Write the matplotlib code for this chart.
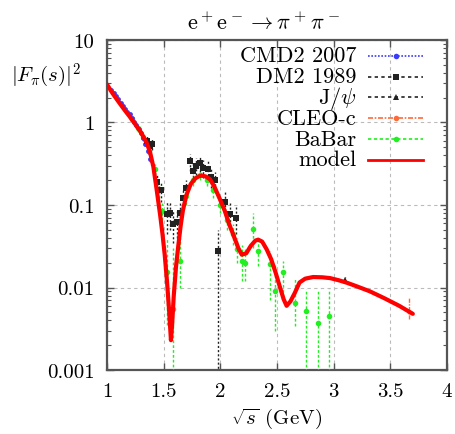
import numpy as np
import matplotlib
matplotlib.use('Agg')
import matplotlib.pyplot as plt
from matplotlib.ticker import FixedLocator, FixedFormatter, LogLocator, NullFormatter

plt.rcParams['font.family'] = 'cmr10'
plt.rcParams['mathtext.fontset'] = 'cm'
plt.rcParams['axes.unicode_minus'] = False

# CMD2 2007
cmd2_x = [1.04, 1.06, 1.08, 1.10, 1.12, 1.14, 1.16, 1.18, 1.20, 1.22, 1.24, 1.26, 1.28, 1.30, 1.32, 1.34, 1.36, 1.38]
cmd2_y = [2.5, 2.3, 2.1, 1.9, 1.72, 1.6, 1.45, 1.35, 1.25, 1.12, 1.02, 0.92, 0.83, 0.74, 0.64, 0.55, 0.45, 0.36]
cmd2_err = [0.08, 0.07, 0.07, 0.06, 0.06, 0.05, 0.05, 0.05, 0.04, 0.04, 0.04, 0.04, 0.03, 0.03, 0.03, 0.03, 0.03, 0.03]

# DM2 1989
dm2_x = [1.35, 1.38, 1.40, 1.44, 1.48, 1.53, 1.56, 1.585, 1.615, 1.645, 1.67, 1.70, 1.73, 1.76, 1.79,
         1.82, 1.85, 1.89, 1.92, 1.95, 1.98, 2.04, 2.085, 2.14]
dm2_y = [0.60, 0.52, 0.55, 0.19, 0.15, 0.078, 0.08, 0.058, 0.062, 0.08, 0.12, 0.16, 0.34, 0.26, 0.30,
         0.32, 0.28, 0.27, 0.22, 0.20, 0.028, 0.11, 0.078, 0.07]
dm2_lo = [0.50, 0.44, 0.46, 0.15, 0.11, 0.045, 0.05, 0.035, 0.04, 0.055, 0.09, 0.12, 0.26, 0.19, 0.23,
          0.25, 0.21, 0.20, 0.16, 0.15, 1e-5, 0.075, 0.05, 0.045]
dm2_hi = [0.70, 0.60, 0.64, 0.23, 0.19, 0.11, 0.11, 0.085, 0.085, 0.105, 0.15, 0.20, 0.42, 0.33, 0.37,
          0.39, 0.35, 0.34, 0.28, 0.25, 0.05, 0.15, 0.105, 0.095]

# J/psi
jpsi_x = [3.097]
jpsi_y = [0.0125]
jpsi_err = [0.0008]

# CLEO-c
cleo_x = [3.67]
cleo_y = [0.0051]
cleo_lo = [0.0042]
cleo_hi = [0.0075]

# BaBar
babar_x = [1.22, 1.27, 1.32, 1.37, 1.42, 1.46, 1.49, 1.527, 1.585, 1.644, 1.70, 1.76, 1.82, 1.88,
           1.94, 2.00, 2.06, 2.115, 2.145, 2.19, 2.218, 2.29, 2.335, 2.44, 2.48, 2.556, 2.66,
           2.76, 2.865, 2.96]
babar_y = [1.1, 0.85, 0.66, 0.45, 0.27, 0.15, 0.085, 0.0153, 0.0055, 0.021, 0.13, 0.20, 0.23, 0.20,
           0.15, 0.10, 0.065, 0.045, 0.029, 0.021, 0.020, 0.051, 0.028, 0.0194, 0.009, 0.0153, 0.0065,
           0.0052, 0.0037, 0.0045]
babar_lo = [1.0, 0.77, 0.60, 0.40, 0.23, 0.12, 0.065, 0.0035, 1e-5, 0.010, 0.10, 0.17, 0.20, 0.17,
            0.12, 0.08, 0.05, 0.033, 0.02, 0.012, 0.012, 0.03, 0.018, 0.007, 0.003, 0.0077, 0.0034,
            1e-5, 1e-5, 1e-5]
babar_hi = [1.2, 0.93, 0.72, 0.50, 0.31, 0.18, 0.105, 0.04, 0.03, 0.04, 0.16, 0.23, 0.26, 0.23,
            0.18, 0.12, 0.08, 0.058, 0.04, 0.033, 0.03, 0.08, 0.04, 0.028, 0.02, 0.021, 0.0127,
            0.0095, 0.009, 0.0095]

# model curve
model_x = [1.00, 1.05, 1.10, 1.15, 1.20, 1.25, 1.30, 1.35, 1.38, 1.41, 1.44, 1.47, 1.49, 1.51, 1.53,
           1.55, 1.565, 1.575, 1.59, 1.61, 1.63, 1.65, 1.67, 1.70, 1.74, 1.78, 1.81, 1.835, 1.87,
           1.91, 1.95, 2.00, 2.04, 2.08, 2.12, 2.16, 2.19, 2.23, 2.27, 2.31, 2.335, 2.37, 2.41,
           2.45, 2.49, 2.53, 2.56, 2.586, 2.62, 2.66, 2.70, 2.75, 2.82, 2.90, 2.97, 3.05, 3.12,
           3.20, 3.32, 3.45, 3.58, 3.70]
model_y = [2.9, 2.25, 1.8, 1.45, 1.18, 0.95, 0.76, 0.57, 0.44, 0.29, 0.15, 0.075, 0.045, 0.025, 0.012,
           0.005, 0.0023, 0.0035, 0.008, 0.018, 0.032, 0.055, 0.085, 0.13, 0.18, 0.21, 0.222, 0.227, 0.222,
           0.205, 0.165, 0.115, 0.085, 0.058, 0.042, 0.030, 0.025, 0.026, 0.032, 0.037, 0.038, 0.036, 0.029,
           0.022, 0.015, 0.0098, 0.0072, 0.006, 0.0068, 0.0087, 0.0115, 0.0128, 0.0134, 0.0133, 0.013,
           0.0122, 0.0114, 0.0104, 0.009, 0.0074, 0.006, 0.0048]

c_cmd2 = '#3a3aff'
c_dm2 = '#222222'
c_cleo = '#ff6a3a'
c_babar = '#22ee22'
c_model = '#ff0000'


def bounds_err(y, lo, hi):
    y = np.array(y)
    return [y - np.array(lo), np.array(hi) - y]


fig = plt.figure(figsize=(4.55, 4.35), dpi=100)
ax = fig.add_axes([0.235, 0.147, 0.747, 0.759])
ax.set_yscale('log')
ax.set_xlim(1, 4)
ax.set_ylim(0.001, 10)

ax.grid(True, which='major', color='#bbbbbb', linestyle=(0, (3, 3)), linewidth=0.8)
ax.set_axisbelow(True)


def draw_set(x, y, yerr, color, marker, ms, dash):
    eb = ax.errorbar(x, y, yerr=yerr, fmt=marker, color=color, ms=ms, mew=0,
                     elinewidth=1.0, capsize=1.5, capthick=1.0, zorder=3)
    for coll in eb[2]:
        coll.set_linestyle(dash)
    return eb


draw_set(babar_x, babar_y, bounds_err(babar_y, babar_lo, babar_hi), c_babar, 'o', 4, (0, (2, 1.5)))
draw_set(cmd2_x, cmd2_y, cmd2_err, c_cmd2, 'o', 3.5, (0, (1, 1)))
draw_set(dm2_x, dm2_y, bounds_err(dm2_y, dm2_lo, dm2_hi), c_dm2, 's', 4, (0, (1.5, 1.5)))
draw_set(jpsi_x, jpsi_y, jpsi_err, c_dm2, '^', 4, (0, (1.5, 1.5)))
draw_set(cleo_x, cleo_y, bounds_err(cleo_y, cleo_lo, cleo_hi), c_cleo, 'o', 3, (0, (3, 1, 1, 1)))

ax.plot(model_x, model_y, color=c_model, lw=3, solid_capstyle='round', zorder=5)

# axes styling
for sp in ax.spines.values():
    sp.set_color('#555555')
    sp.set_linewidth(1.6)

ax.xaxis.set_major_locator(FixedLocator([1, 1.5, 2, 2.5, 3, 3.5, 4]))
ax.xaxis.set_major_formatter(FixedFormatter(['1', '1.5', '2', '2.5', '3', '3.5', '4']))
ax.yaxis.set_major_locator(FixedLocator([0.001, 0.01, 0.1, 1, 10]))
ax.yaxis.set_major_formatter(FixedFormatter(['0.001', '0.01', '0.1', '1', '10']))
ax.yaxis.set_minor_locator(LogLocator(base=10, subs=np.arange(2, 10)))
ax.yaxis.set_minor_formatter(NullFormatter())
ax.tick_params(which='both', direction='in', top=True, right=True, color='#555555')
ax.tick_params(which='major', length=5, width=1.0, labelsize=15, pad=9)
ax.tick_params(which='minor', length=3, width=0.8)
ax.tick_params(axis='x', which='major', pad=9)

ax.set_title(r'$\mathrm{e^+e^-} \rightarrow \pi^+\pi^-$', fontsize=16, pad=8, x=0.46)
ax.set_xlabel(r'$\sqrt{s}$ (GeV)', fontsize=15, labelpad=4)
ax.set_ylabel(r'$|F_\pi(s)|^2$', fontsize=15, rotation=0)
ax.yaxis.set_label_coords(-0.18, 0.85)

# key, gnuplot style: right-aligned labels with line samples on the right
entries = [
    ('CMD2 2007', c_cmd2, (0, (1, 1)), 'o'),
    ('DM2 1989', c_dm2, (0, (2, 2)), 's'),
    (r'J/$\psi$', c_dm2, (0, (2, 2)), '^'),
    ('CLEO-c', c_cleo, (0, (3, 1, 1, 1)), 'o'),
    ('BaBar', c_babar, (0, (2, 1.5)), 'o'),
    ('model', c_model, '-', None),
]
row0, step = 0.952, 0.063
for i, (label, color, ls, mk) in enumerate(entries):
    yy = row0 - i * step
    ax.text(0.735, yy, label, transform=ax.transAxes, ha='right', va='center', fontsize=16)
    lw = 2 if mk is None else 1.2
    ax.plot([0.768, 0.93], [yy, yy], transform=ax.transAxes, color=color, ls=ls, lw=lw,
            clip_on=False, zorder=6)
    if mk is not None:
        ax.plot([0.85], [yy], transform=ax.transAxes, color=color, marker=mk, ms=4, mew=0,
                clip_on=False, zorder=6)

fig.savefig('out.png', dpi=100)
